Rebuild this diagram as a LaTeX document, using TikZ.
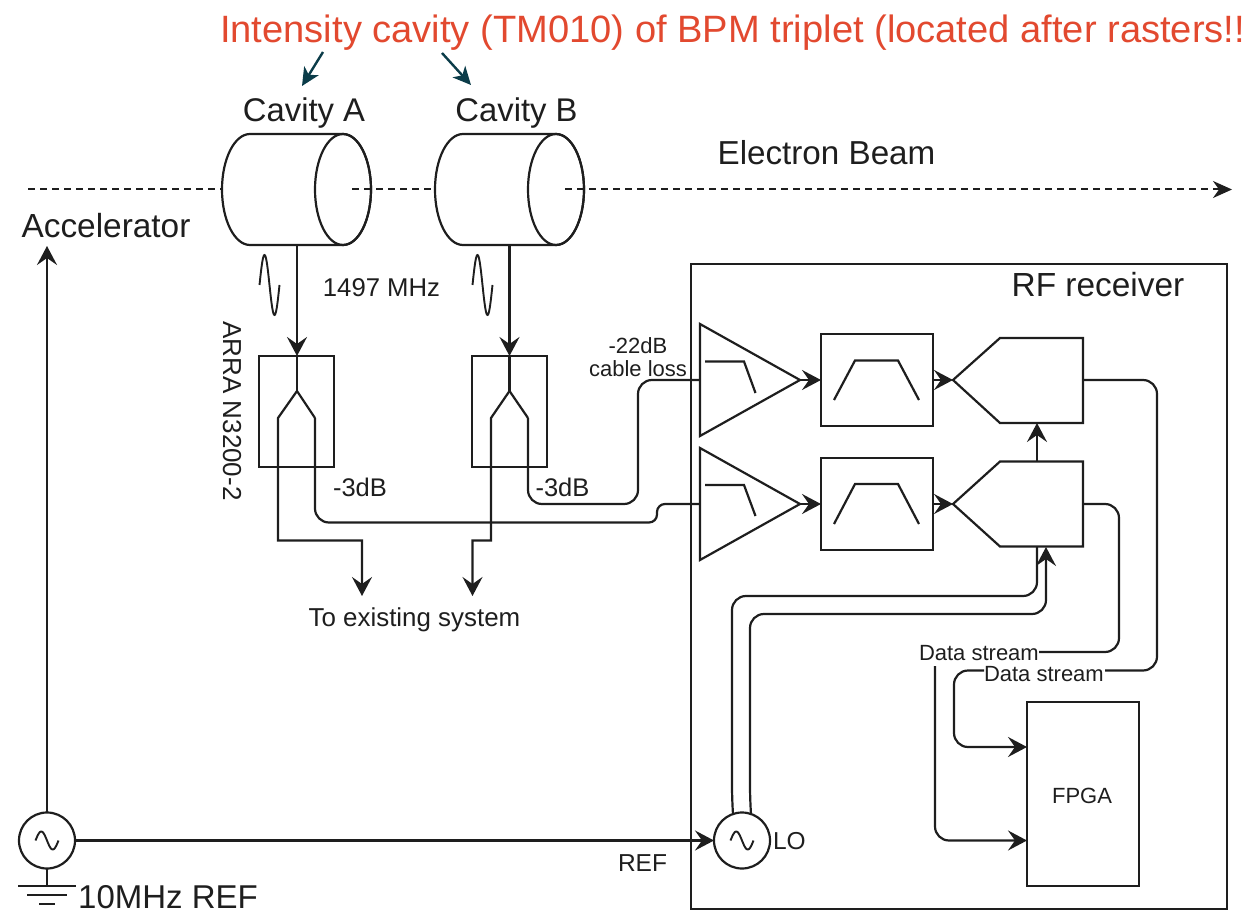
\documentclass[tikz,border=0pt]{standalone}
\usepackage{fontspec}
\setmainfont{Liberation Sans}
\usetikzlibrary{arrows.meta,calc}
\definecolor{ink}{HTML}{1E1E1E}
\definecolor{titlered}{HTML}{E2492F}
\definecolor{tealptr}{HTML}{0B3C49}
\tikzset{
  ln/.style={draw=ink,line width=2.2pt,line join=miter},
  thin ln/.style={draw=ink,line width=1.9pt},
  bighead/.style={-{Stealth[length=19pt,width=20pt,inset=7pt]}},
  arr/.style={ln,bighead},
  box/.style={ln,rectangle,inner sep=0pt,outer sep=0pt,fill=none},
  txt/.style={text=ink,inner sep=0pt,outer sep=0pt,align=center},
  route/.style={ln,rounded corners=14pt},
  beam/.style={draw=ink,line width=2pt,dash pattern=on 7pt off 5pt},
  pointer/.style={draw=tealptr,line width=2.4pt,-{Stealth[length=18pt,width=17pt,inset=5pt]}},
}
\newcommand{\cavbody}[1]{% #1 = left edge x
  \draw[ln] (#1+28,134) arc[start angle=90,end angle=270,x radius=28pt,y radius=55.5pt]
     -- (#1+121,245) arc[start angle=-90,end angle=90,x radius=28pt,y radius=55.5pt] -- cycle;
  \draw[ln] (#1+121,134) arc[start angle=90,end angle=-270,x radius=28pt,y radius=55.5pt];
}
\newcommand{\rfwave}[1]{% #1 = left x
  \draw[thin ln,domain=0:360,samples=60,smooth] plot ({#1+\x/360*20},{285-30*sin(\x)});
}
\newcommand{\acwave}[2]{%
  \draw[thin ln,domain=0:360,samples=40,smooth] plot ({#1-11.5+\x/360*23},{#2-9*sin(\x)});
}
\begin{document}
\begin{tikzpicture}[x=1pt,y=-1pt]
\useasboundingbox (0,0) rectangle (1248,912);

% Title
\node[inner sep=0pt,anchor=west,text=titlered,font=\fontsize{38.1}{42}\selectfont] (title) at (220,33)
  {Intensity cavity (TM010) of BPM triplet (located after rasters!!};
\coordinate (titleA) at (323,52);
\coordinate (titleB) at (442,53);
\coordinate (capA) at (302,86);
\coordinate (capB) at (471,85);
\draw[pointer] (titleA) -- (capA);
\draw[pointer] (titleB) -- (capB);

% Cavities
\node[txt,font=\fontsize{32.8}{36}\selectfont] (lblA) at (304,113) {Cavity A};
\node[txt,font=\fontsize{32.8}{36}\selectfont] (lblB) at (516.5,113) {Cavity B};
\coordinate (beamstart) at (28,189.5);
\coordinate (beamA) at (222,189.5);
\coordinate (beamAout) at (352,189.5);
\coordinate (beamB) at (435,189.5);
\coordinate (beamBout) at (565,189.5);
\coordinate (beamend) at (1232,189.5);
\draw[beam] (beamstart) -- (beamA);
\draw[beam] (beamAout) -- (beamB);
\draw[beam,-{Stealth[length=19pt,width=17pt,inset=6pt]}] (beamBout) -- (beamend);
\cavbody{222}
\cavbody{435}
\node[txt,font=\fontsize{33.2}{36}\selectfont] (beamlbl) at (826.5,153) {Electron Beam};
\node[txt,font=\fontsize{33.4}{36}\selectfont] (accel) at (106,226) {Accelerator};
\rfwave{259.5}
\rfwave{472.5}
\node[txt,font=\fontsize{25.7}{30}\selectfont] (mhz) at (381.5,288) {1497 MHz};

% Couplers
\node[box,minimum width=75pt,minimum height=111pt] (cplA) at (296.5,411.5) {};
\node[box,minimum width=75pt,minimum height=111pt] (cplB) at (509.5,411.5) {};
\coordinate (cavAout) at (297,245);
\coordinate (cavBout) at (509.5,245);
\coordinate (cavAin) at (297,356);
\coordinate (cavBin) at (509.5,356);
\draw[arr] (cavAout) -- (cavAin);
\draw[arr] (cavBout) -- (cavBin);
\coordinate (splitA) at (297,391);
\coordinate (splitB) at (509.5,391);
\draw[ln] (cavAin) -- (splitA);
\draw[ln] (cavBin) -- (splitB);
\node[txt,rotate=-90,font=\fontsize{26}{30}\selectfont] (arra) at (232,411) {ARRA N3200-2};

\coordinate (exA) at (362,596);
\coordinate (exB) at (472.5,596);
\draw[arr] (splitA) -- (278,418) -- (278,540.5) -- (362,540.5) -- (exA);
\draw[arr] (splitB) -- (491,418) -- (491,540.5) -- (472.5,540.5) -- (exB);
\node[txt,font=\fontsize{25.9}{30}\selectfont] (exist) at (414.5,620) {To existing system};
\node[txt,font=\fontsize{25.5}{30}\selectfont] (dbA) at (360,487) {-3dB};
\node[txt,font=\fontsize{25.5}{30}\selectfont] (dbB) at (562.5,487) {-3dB};
\node[txt,font=\fontsize{22}{23}\selectfont] (loss) at (638,357) {-22dB\\cable loss};

% RF receiver
\node[box,minimum width=536pt,minimum height=645pt] (rf) at (959,586.5) {};
\node[txt,font=\fontsize{33.4}{36}\selectfont] (rflbl) at (1098,285) {RF receiver};

% Amplifiers
\coordinate (ampAin) at (700,380);
\coordinate (ampAout) at (800,380);
\coordinate (ampBin) at (700,504);
\coordinate (ampBout) at (800,504);
\draw[ln] (700,324) -- (ampAout) -- (700,436) -- cycle;
\draw[ln] (700,448) -- (ampBout) -- (700,560) -- cycle;
\draw[ln] (705,361.5) -- (744,361.5) -- (755.5,393);
\draw[ln] (705,485) -- (744,485) -- (755.5,516);

% Couplers to amplifiers
\draw[ln] (splitA) -- (315,418);
\draw[ln] (splitB) -- (528,418);
\draw[route] (528,418) -- (528,504) -- (638,504) -- (638,380) -- (ampAin);
\draw[route] (315,418) -- (315,522.5) [rounded corners=8pt] -- (657,522.5) -- (657,504) -- (ampBin);

% Filters
\node[box,minimum width=112pt,minimum height=92.5pt] (filtA) at (877,380) {};
\node[box,minimum width=112pt,minimum height=92.5pt] (filtB) at (877,504) {};
\draw[ln] (834,400) -- (855,360.5) -- (898,360.5) -- (919,400);
\draw[ln] (834,524) -- (855,484) -- (898,484) -- (919,524);
\draw[arr] (ampAout) -- (filtA.west);
\draw[arr] (ampBout) -- (filtB.west);

% Mixers
\coordinate (mixA) at (953,380);
\coordinate (mixB) at (953,504);
\coordinate (mixAe) at (1083,380);
\coordinate (mixBe) at (1083,504);
\draw[ln] (mixA) -- (1000,338) -- (1083,338) -- (1083,423) -- (1000,423) -- cycle;
\draw[ln] (mixB) -- (1000,461.5) -- (1083,461.5) -- (1083,546.5) -- (1000,546.5) -- cycle;
\draw[arr] (filtA.east) -- (mixA);
\draw[arr] (filtB.east) -- (mixB);
\coordinate (mixBtop) at (1037,461.5);
\coordinate (mixAbot) at (1037,423);
\draw[arr] (mixBtop) -- (mixAbot);

% LO
\node[ln,circle,minimum size=56pt,inner sep=0pt,outer sep=0pt] (lo) at (742,840.5) {};
\acwave{742}{840.5}
\node[txt,anchor=west,font=\fontsize{24.5}{28}\selectfont] (lolbl) at (773,841) {LO};
\coordinate (mixBb1) at (1037,546.5);
\coordinate (mixBb2) at (1046,547);
\coordinate (loo1) at (733,814);
\coordinate (loo2) at (751,814);
\draw[route] (loo1) -- (732,800) -- (732,596) -- (1037,596) -- (mixBb1);
\draw[route,bighead] (loo2) -- (750,800) -- (750,614) -- (1046,614) -- (mixBb2);

% Data streams
\node[txt,anchor=west,font=\fontsize{22}{26}\selectfont] (ds1) at (919,653) {Data stream};
\node[txt,anchor=west,font=\fontsize{22}{26}\selectfont] (ds2) at (984,674) {Data stream};
\node[box,minimum width=112pt,minimum height=184pt] (fpga) at (1083,794) {};
\node[txt,font=\fontsize{22}{26}\selectfont] (fpgalbl) at (1082,796) {FPGA};
\coordinate (fpgaA) at (1027,747);
\coordinate (fpgaB) at (1027,840.5);
\coordinate (ds1out) at (935,666);
\coordinate (ds1r) at (1039,652);
\coordinate (ds2r) at (1105,670.5);
\coordinate (ds2l) at (984,670.5);
\draw[route] (mixBe) -- (1119,504) -- (1119,652) -- (ds1r);
\draw[route] (mixAe) -- (1157,380) -- (1157,670.5) -- (ds2r);
\draw[route,bighead] (ds2l) -- (954,670.5) -- (954,747) -- (fpgaA);
\draw[route,bighead] (ds1out) -- (935,840.5) -- (fpgaB);

% Reference source
\node[ln,circle,minimum size=56pt,inner sep=0pt,outer sep=0pt] (src) at (47,840.5) {};
\acwave{47}{840.5}
\coordinate (acctip) at (47,246);
\draw[arr] (src.north) -- (acctip);
\draw[arr] (src.east) -- (lo.west);
\coordinate (gnd) at (47,886);
\draw[ln] (src.south) -- (gnd);
\draw[ln] (18,886) -- (76,886);
\draw[ln] (27,895) -- (67,895);
\draw[ln] (39,904) -- (55,904);
\node[text=ink,inner sep=0pt,anchor=west,font=\fontsize{33}{36}\selectfont] (ref10) at (78,897.5) {10MHz REF};
\node[txt,font=\fontsize{24.5}{28}\selectfont] (reflbl) at (642.5,863) {REF};
\end{tikzpicture}
\end{document}
